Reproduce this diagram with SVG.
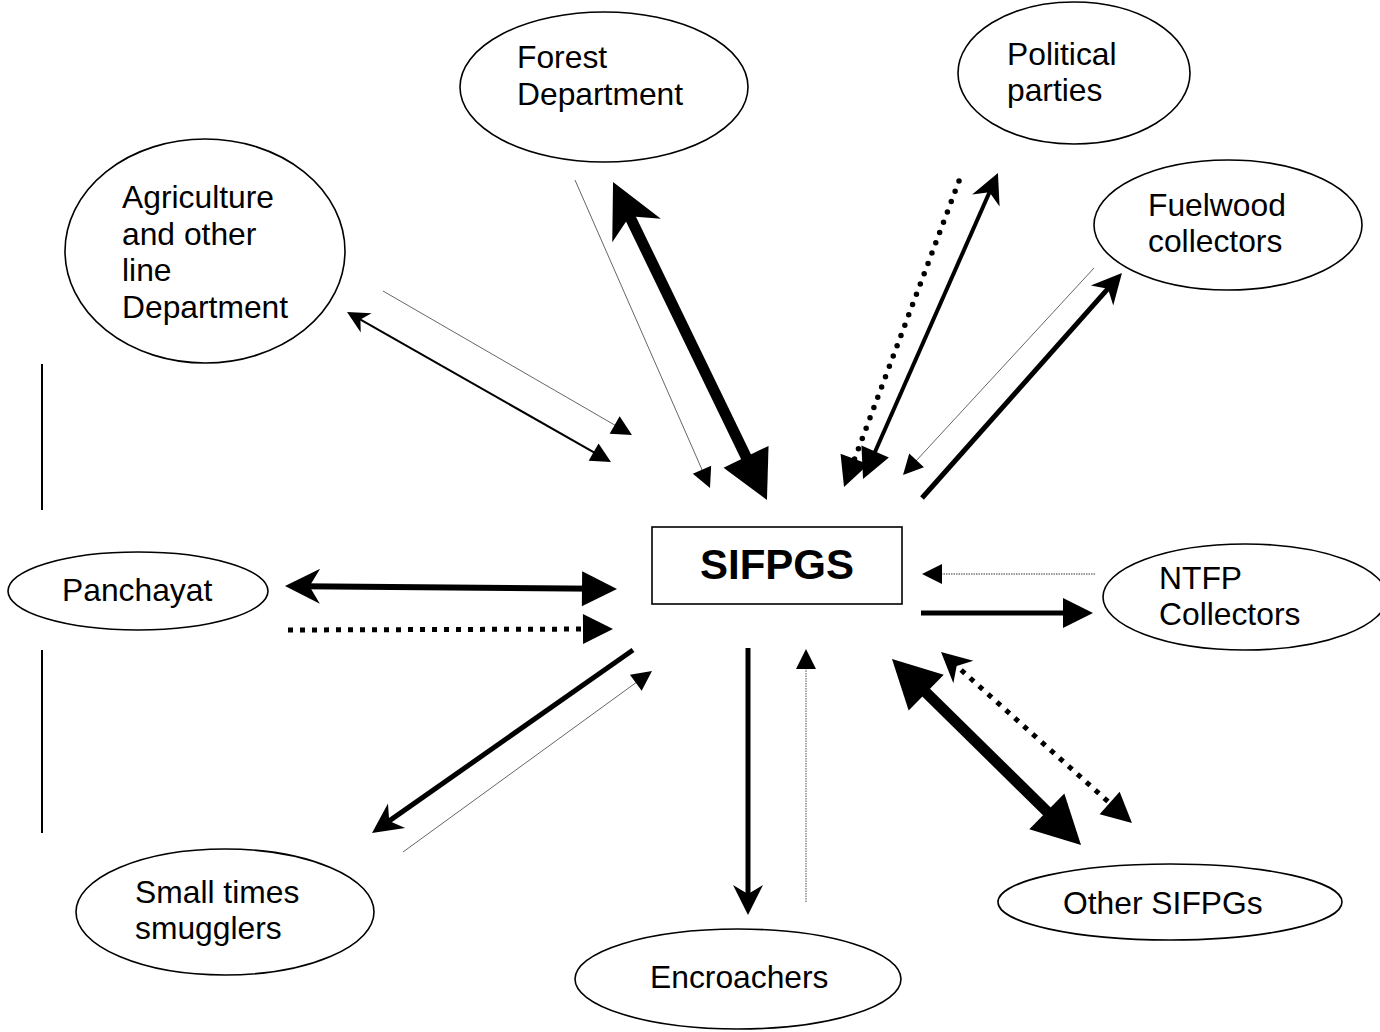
<svg xmlns="http://www.w3.org/2000/svg" width="1380" height="1032" viewBox="0 0 1380 1032">
<style>
  .node ellipse, .node rect { fill: #fff; stroke: #000; stroke-width: 1.6; }
  .lbl { font-family: "Liberation Sans", Arial, sans-serif; font-size: 31.8px; fill: #000; }
  .title { font-family: "Liberation Sans", Arial, sans-serif; font-size: 42px; font-weight: bold; fill: #000; }
  .c { fill: none; stroke: #000; }
  .thin { stroke: #555; stroke-width: 0.9; }
  .thindot { stroke: #777; stroke-width: 1.3; stroke-dasharray: 1.5 1; }
  .w2 { stroke-width: 2; }
  .w4 { stroke-width: 4; }
  .w5 { stroke-width: 5; }
  .w6 { stroke-width: 6; }
  .w10 { stroke-width: 11; }
  .rdot { stroke-width: 5.5; stroke-linecap: round; stroke-dasharray: 0 11; }
  .sdot { stroke-width: 5; stroke-dasharray: 5 7; }
  .bar { stroke: #000; stroke-width: 2; }
</style>
<defs>
  <marker id="triS" markerUnits="userSpaceOnUse" markerWidth="20" markerHeight="20" refX="10" refY="10" orient="auto-start-reverse" overflow="visible"><path d="M0,0 L20,10 L0,20 z" fill="#000"/></marker>
  <marker id="notchS" markerUnits="userSpaceOnUse" markerWidth="22" markerHeight="22" refX="11" refY="11" orient="auto-start-reverse" overflow="visible"><path d="M0,0 L22,11 L0,22 L6.6,11 z" fill="#000"/></marker>
  <marker id="triM" markerUnits="userSpaceOnUse" markerWidth="30" markerHeight="30" refX="15" refY="15" orient="auto-start-reverse" overflow="visible"><path d="M0,0 L30,15 L0,30 z" fill="#000"/></marker>
  <marker id="notchM" markerUnits="userSpaceOnUse" markerWidth="30" markerHeight="30" refX="15" refY="15" orient="auto-start-reverse" overflow="visible"><path d="M0,0 L30,15 L0,30 L9,15 z" fill="#000"/></marker>
  <marker id="triP" markerUnits="userSpaceOnUse" markerWidth="35" markerHeight="35" refX="17.5" refY="17.5" orient="auto-start-reverse" overflow="visible"><path d="M0,0 L35,17.5 L0,35 z" fill="#000"/></marker>
  <marker id="notchP" markerUnits="userSpaceOnUse" markerWidth="35" markerHeight="35" refX="17.5" refY="17.5" orient="auto-start-reverse" overflow="visible"><path d="M0,0 L35,17.5 L0,35 L10.5,17.5 z" fill="#000"/></marker>
  <marker id="triL" markerUnits="userSpaceOnUse" markerWidth="48" markerHeight="50" refX="24" refY="25" orient="auto-start-reverse" overflow="visible"><path d="M0,0 L48,25 L0,50 z" fill="#000"/></marker>
  <marker id="notchL" markerUnits="userSpaceOnUse" markerWidth="54" markerHeight="54" refX="27" refY="27" orient="auto-start-reverse" overflow="visible"><path d="M0,0 L54,27 L0,54 L16,27 z" fill="#000"/></marker>
</defs>
<rect width="1380" height="1032" fill="#fff"/>

<g id="decor">
  <line class="bar" x1="42" y1="364" x2="42" y2="510"/>
  <line class="bar" x1="42" y1="650" x2="42" y2="833"/>
</g>

<g id="connectors">
  <!-- Agriculture -->
  <line class="c w2" x1="356.6" y1="317.4" x2="602.3" y2="457.1" marker-start="url(#notchS)" marker-end="url(#triS)"/>
  <line class="c thin" x1="383" y1="291" x2="623.3" y2="430" marker-end="url(#triS)"/>
  <!-- Forest -->
  <line class="c thin" x1="575" y1="180" x2="706" y2="478.8" marker-end="url(#triS)"/>
  <line class="c w10" x1="624.8" y1="206.3" x2="756.5" y2="478.4" marker-start="url(#notchL)" marker-end="url(#triL)"/>
  <!-- Political -->
  <line class="c rdot" x1="959" y1="181" x2="849.3" y2="473" marker-end="url(#triM)"/>
  <line class="c w4" x1="991.9" y1="186.7" x2="869.1" y2="465.3" marker-start="url(#notchM)" marker-end="url(#triM)"/>
  <!-- Fuelwood -->
  <line class="c thin" x1="1094" y1="268" x2="909.8" y2="467.7" marker-end="url(#triS)"/>
  <line class="c w5" x1="922" y1="498" x2="1112" y2="284.2" marker-end="url(#notchM)"/>
  <!-- Panchayat -->
  <line class="c w6" x1="302.5" y1="586.2" x2="599.5" y2="588.8" marker-start="url(#notchP)" marker-end="url(#triP)"/>
  <line class="c sdot" x1="288" y1="630" x2="598" y2="629" marker-end="url(#triM)"/>
  <!-- NTFP -->
  <line class="c thindot" x1="1095" y1="574" x2="932" y2="574" marker-end="url(#triS)"/>
  <line class="c w5" x1="921" y1="613" x2="1078" y2="613" marker-end="url(#triM)"/>
  <!-- Other SIFPGs -->
  <line class="c w10" x1="909.1" y1="675.8" x2="1063.9" y2="828.2" marker-start="url(#triL)" marker-end="url(#triL)"/>
  <line class="c sdot" x1="952.2" y1="662" x2="1120.8" y2="813" marker-start="url(#notchM)" marker-end="url(#triM)"/>
  <!-- Smugglers -->
  <line class="c w5" x1="633" y1="650" x2="384.3" y2="824.4" marker-end="url(#notchM)"/>
  <line class="c thin" x1="403" y1="852" x2="643.9" y2="676.9" marker-end="url(#triS)"/>
  <!-- Encroachers -->
  <line class="c w5" x1="748" y1="648" x2="748" y2="900" marker-end="url(#notchM)"/>
  <line class="c thindot" x1="806" y1="902" x2="806" y2="659" marker-end="url(#triS)"/>
</g>

<g id="sifpgs" class="node">
  <rect x="652" y="527" width="250" height="77"/>
  <text class="title" x="777" y="579" text-anchor="middle">SIFPGS</text>
</g>
<g id="forest" class="node">
  <ellipse cx="604" cy="87" rx="144" ry="75"/>
  <text class="lbl" x="517" y="68">Forest</text>
  <text class="lbl" x="517" y="105">Department</text>
</g>
<g id="political" class="node">
  <ellipse cx="1074" cy="73" rx="116" ry="71"/>
  <text class="lbl" x="1007" y="65">Political</text>
  <text class="lbl" x="1007" y="101">parties</text>
</g>
<g id="agriculture" class="node">
  <ellipse cx="205" cy="251" rx="140" ry="112"/>
  <text class="lbl" x="122" y="208">Agriculture</text>
  <text class="lbl" x="122" y="245">and other</text>
  <text class="lbl" x="122" y="281">line</text>
  <text class="lbl" x="122" y="318">Department</text>
</g>
<g id="fuelwood" class="node">
  <ellipse cx="1228" cy="225" rx="134" ry="65"/>
  <text class="lbl" x="1148" y="216">Fuelwood</text>
  <text class="lbl" x="1148" y="252">collectors</text>
</g>
<g id="panchayat" class="node">
  <ellipse cx="138" cy="591" rx="130" ry="39"/>
  <text class="lbl" x="62" y="601">Panchayat</text>
</g>
<g id="ntfp" class="node">
  <ellipse cx="1245" cy="597" rx="142" ry="53"/>
  <text class="lbl" x="1159" y="589">NTFP</text>
  <text class="lbl" x="1159" y="625">Collectors</text>
</g>
<g id="other" class="node">
  <ellipse cx="1170" cy="902" rx="172" ry="38"/>
  <text class="lbl" x="1063" y="914">Other SIFPGs</text>
</g>
<g id="encroachers" class="node">
  <ellipse cx="738" cy="979" rx="163" ry="50"/>
  <text class="lbl" x="650" y="988">Encroachers</text>
</g>
<g id="smugglers" class="node">
  <ellipse cx="225" cy="912" rx="149" ry="63"/>
  <text class="lbl" x="135" y="903">Small times</text>
  <text class="lbl" x="135" y="939">smugglers</text>
</g>
</svg>
